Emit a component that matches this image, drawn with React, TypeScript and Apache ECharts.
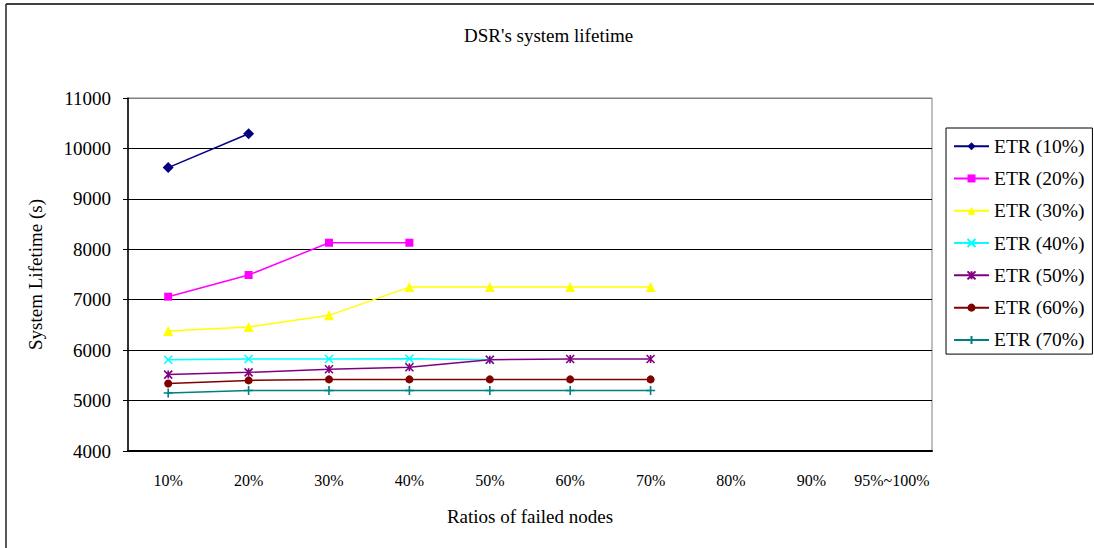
import React, { useEffect, useRef } from "react";
import * as echarts from "echarts";

// Failed-node ratios along the x axis
const categories = ["10%", "20%", "30%", "40%", "50%", "60%", "70%", "80%", "90%", "95%~100%"];

// System lifetime (s) for each ETR setting; null where no run survived
const etr10 = [9620, 10290, null, null, null, null, null, null, null, null];
const etr20 = [7060, 7490, 8130, 8130, null, null, null, null, null, null];
const etr30 = [6380, 6460, 6690, 7250, 7250, 7250, 7250, null, null, null];
const etr40 = [5810, 5825, 5825, 5830, 5810, null, null, null, null, null];
const etr50 = [5515, 5560, 5620, 5660, 5810, 5825, 5825, null, null, null];
const etr60 = [5340, 5400, 5420, 5420, 5420, 5420, 5420, null, null, null];
const etr70 = [5150, 5200, 5200, 5200, 5200, 5200, 5200, null, null, null];

const yMin = 4000;
const yMax = 11000;
const yStep = 1000;

const FONT = "'Liberation Serif', 'Times New Roman', serif";

const CROSS = "path://M0,0L10,10M10,0L0,10";
const ASTERISK = "path://M0,0L10,10M10,0L0,10M5,0L5,10";
const PLUS = "path://M5,0L5,10M0,5L10,5";

type SeriesDef = { name: string; data: (number | null)[]; color: string; symbol: string; size: number; stroke?: boolean };

const seriesDefs: SeriesDef[] = [
  { name: "ETR (10%)", data: etr10, color: "#000080", symbol: "diamond", size: 11 },
  { name: "ETR (20%)", data: etr20, color: "#FF00FF", symbol: "rect", size: 8 },
  { name: "ETR (30%)", data: etr30, color: "#FFFF00", symbol: "triangle", size: 10 },
  { name: "ETR (40%)", data: etr40, color: "#00FFFF", symbol: CROSS, size: 8, stroke: true },
  { name: "ETR (50%)", data: etr50, color: "#800080", symbol: ASTERISK, size: 8, stroke: true },
  { name: "ETR (60%)", data: etr60, color: "#800000", symbol: "circle", size: 8 },
  { name: "ETR (70%)", data: etr70, color: "#008080", symbol: PLUS, size: 9, stroke: true },
];

export default function App() {
  const ref = useRef<HTMLDivElement>(null);

  useEffect(() => {
    if (!ref.current) return;
    const chart = echarts.init(ref.current, null, { renderer: "svg" });

    const splitColors: string[] = [];
    for (let v = yMin; v <= yMax; v += yStep) splitColors.push(v === yMax ? "#808080" : "#000000");

    chart.setOption({
      animation: false,
      backgroundColor: "#ffffff",
      textStyle: { fontFamily: FONT },
      title: {
        text: "DSR's system lifetime",
        left: 464,
        top: 26,
        padding: 0,
        textStyle: { fontFamily: FONT, fontSize: 19, fontWeight: "normal", color: "#000" },
      },
      legend: {
        orient: "vertical",
        left: 946,
        top: 128,
        padding: [8, 8, 4, 7],
        itemGap: 12,
        itemWidth: 35,
        itemHeight: 10,
        borderColor: "#000",
        borderWidth: 1,
        backgroundColor: "#fff",
        textStyle: { fontFamily: FONT, fontSize: 19.5, color: "#000", lineHeight: 20.3 },
        data: seriesDefs.map((s) => s.name),
      },
      grid: {
        left: 128,
        top: 98,
        right: 162,
        bottom: 97,
        show: true,
        borderColor: "#808080",
        borderWidth: 1,
      },
      xAxis: {
        type: "category",
        data: categories,
        boundaryGap: true,
        name: "Ratios of failed nodes",
        nameLocation: "middle",
        nameGap: 56,
        nameTextStyle: { fontFamily: FONT, fontSize: 19, color: "#000" },
        axisLine: { lineStyle: { color: "#000", width: 2 } },
        axisTick: { inside: true, length: 6, interval: 0, lineStyle: { color: "#000" } },
        axisLabel: { interval: 0, margin: 21, fontFamily: FONT, fontSize: 16, color: "#000" },
        splitLine: { show: false },
      },
      yAxis: {
        type: "value",
        min: yMin,
        max: yMax,
        interval: yStep,
        name: "System Lifetime (s)",
        nameLocation: "middle",
        nameGap: 83,
        nameTextStyle: { fontFamily: FONT, fontSize: 19, color: "#000" },
        axisLine: { show: true, lineStyle: { color: "#000", width: 1.5 } },
        axisTick: { show: true, inside: false, length: 5, lineStyle: { color: "#000" } },
        axisLabel: {
          margin: 17,
          fontFamily: FONT,
          fontSize: 19,
          color: "#000",
          formatter: (v: number) => String(v),
        },
        splitLine: { show: true, lineStyle: { color: splitColors, width: 1 } },
      },
      series: seriesDefs.map((s) => ({
        name: s.name,
        type: "line",
        data: s.data,
        connectNulls: false,
        symbol: s.symbol,
        symbolSize: s.size,
        showSymbol: true,
        lineStyle: { color: s.color, width: 1.5 },
        itemStyle: s.stroke
          ? { color: s.color, borderColor: s.color, borderWidth: 1.6 }
          : { color: s.color, borderWidth: 0 },
        emphasis: { disabled: true },
      })),
      graphic: [
        {
          type: "line",
          shape: { x1: 6, y1: 4, x2: 1094, y2: 4 },
          style: { stroke: "#404040", lineWidth: 2 },
          silent: true,
        },
        {
          type: "line",
          shape: { x1: 6, y1: 4, x2: 6, y2: 548 },
          style: { stroke: "#202020", lineWidth: 1.5 },
          silent: true,
        },
      ],
    });

    return () => chart.dispose();
  }, []);

  return (
    <div
      ref={ref}
      style={{ position: "fixed", left: 0, top: 0, width: 1094, height: 548 }}
    />
  );
}
